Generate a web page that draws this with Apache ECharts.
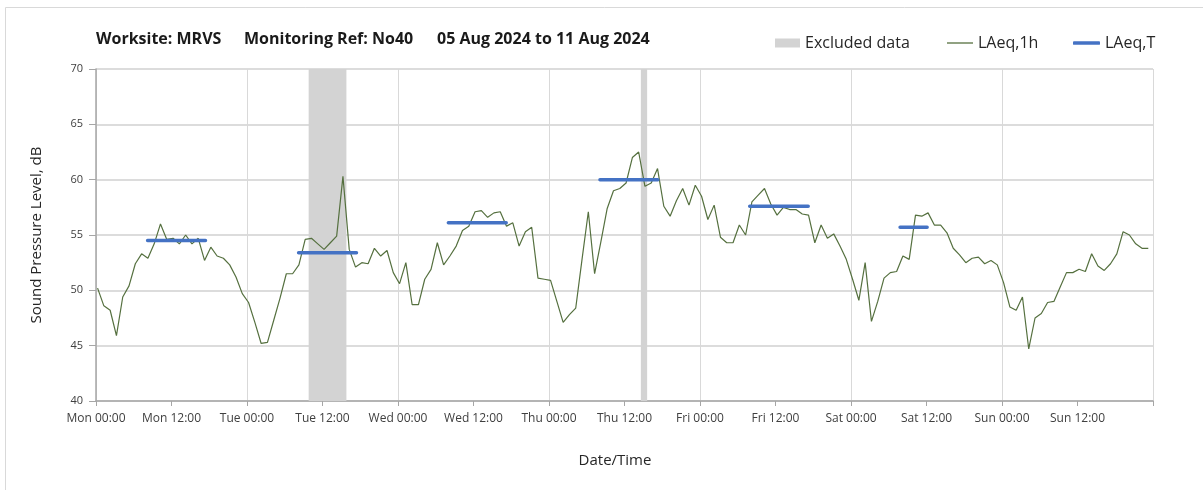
<!DOCTYPE html>
<html>
<head>
<meta charset="utf-8">
<title>MRVS No40 noise</title>
<script src="https://cdn.jsdelivr.net/npm/echarts@6/dist/echarts.min.js"></script>
<style>
html, body { margin: 0; padding: 0; background: #fff; }
#chart { width: 1203px; height: 490px; }
</style>
</head>
<body>
<div id="chart"></div>
<script>
// LAeq,1h - one reading per hour, Mon 00:00 .. Sun 23:00
const laeq1h = [
    50.2, 48.6, 48.2, 45.9, 49.4, 50.4, 52.4, 53.3, 52.9, 54.2,
    56.0, 54.6, 54.7, 54.2, 55.0, 54.2, 54.7, 52.7, 53.9, 53.1,
    52.9, 52.3, 51.2, 49.7, 48.9, 47.1, 45.2, 45.3, 47.3, 49.3,
    51.5, 51.5, 52.3, 54.6, 54.7, 54.2, 53.7, 54.3, 54.9, 60.3,
    53.7, 52.1, 52.5, 52.4, 53.8, 53.1, 53.6, 51.6, 50.6, 52.5,
    48.7, 48.7, 51.0, 51.9, 54.3, 52.3, 53.1, 54.0, 55.4, 55.8,
    57.1, 57.2, 56.6, 57.0, 57.1, 55.8, 56.1, 54.0, 55.3, 55.7,
    51.1, 51.0, 50.9, 49.0, 47.1, 47.8, 48.4, 52.8, 57.1, 51.5,
    54.4, 57.4, 59.0, 59.2, 59.7, 62.0, 62.5, 59.4, 59.7, 61.0,
    57.6, 56.7, 58.1, 59.2, 57.7, 59.5, 58.5, 56.4, 57.7, 54.8,
    54.3, 54.3, 55.9, 55.0, 58.0, 58.6, 59.2, 57.8, 56.8, 57.5,
    57.3, 57.3, 56.9, 56.8, 54.3, 55.9, 54.7, 55.1, 54.0, 52.8,
    51.0, 49.1, 52.5, 47.2, 49.0, 51.1, 51.6, 51.7, 53.1, 52.8,
    56.8, 56.7, 57.0, 55.9, 55.9, 55.2, 53.8, 53.2, 52.5, 52.9,
    53.0, 52.4, 52.7, 52.3, 50.7, 48.5, 48.2, 49.4, 44.7, 47.5,
    47.9, 48.9, 49.0, 50.3, 51.6, 51.6, 51.9, 51.7, 53.3, 52.2,
    51.8, 52.4, 53.3, 55.3, 55.0, 54.2, 53.8, 53.8
]
const firstHour = 0.25 // readings sit a little after the hour mark

// LAeq,T - daytime period averages (start / end in hours from Mon 00:00)
const laeqTStart = [8.2, 32.2, 56.0, 80.1, 103.9, 127.8]
const laeqTEnd = [17.4, 41.4, 65.2, 89.3, 113.2, 132.1]
const laeqT = [54.5, 53.4, 56.1, 60.0, 57.6, 55.7]

// excluded periods
const excludedStart = [33.8, 86.6]
const excludedEnd = [39.8, 87.6]

// x ticks every 12 h
const xTickLabels = [
    'Mon 00:00', 'Mon 12:00', 'Tue 00:00', 'Tue 12:00', 'Wed 00:00', 'Wed 12:00',
    'Thu 00:00', 'Thu 12:00', 'Fri 00:00', 'Fri 12:00', 'Sat 00:00', 'Sat 12:00',
    'Sun 00:00', 'Sun 12:00', ''
]

const FONT = 'Open Sans'
const GREEN = '#55703f'
const BLUE = '#4472c4'
const GREY = '#d3d3d3'

const lineData = laeq1h.map((v, i) => [i + firstHour, v])

let periodData = []
laeqT.forEach((v, i) => {
    periodData.push([laeqTStart[i], v], [laeqTEnd[i], v], [laeqTEnd[i], '-'])
})

const excludedAreas = excludedStart.map((s, i) => [{ xAxis: s }, { xAxis: excludedEnd[i] }])

const titleStyle = { fontFamily: FONT, fontSize: 16, fontWeight: 'bold', color: '#1a1a1a' }
const legendText = { fontFamily: FONT, fontSize: 16, color: '#262626' }

const chart = echarts.init(document.getElementById('chart'))
const option = {
    animation: false,
    textStyle: { fontFamily: FONT },
    title: [
        { text: 'Worksite: MRVS', left: 96, top: 31, padding: 0, textStyle: titleStyle },
        { text: 'Monitoring Ref: No40', left: 244, top: 31, padding: 0, textStyle: titleStyle },
        { text: '05 Aug 2024 to 11 Aug 2024', left: 437, top: 31, padding: 0, textStyle: titleStyle }
    ],
    legend: [
        {
            left: 775, top: 35, padding: 0, itemWidth: 25, itemHeight: 9,
            data: [{ name: 'Excluded data', icon: 'rect' }],
            textStyle: legendText
        },
        {
            // plain line icon, no symbol
            left: 947, top: 35, padding: 0, itemWidth: 26, itemHeight: 1.3,
            data: [{ name: 'LAeq,1h', icon: 'rect' }],
            textStyle: legendText
        },
        {
            left: 1073, top: 35, padding: 0, itemWidth: 27, itemHeight: 3.5,
            data: [{ name: 'LAeq,T', icon: 'roundRect' }],
            textStyle: legendText
        }
    ],
    graphic: [
        {
            type: 'rect',
            shape: { x: 5.5, y: 7.5, width: 1300, height: 600 },
            style: { fill: 'none', stroke: '#d9d9d9', lineWidth: 1 },
            silent: true
        }
    ],
    grid: { left: 96, right: 50, top: 69, bottom: 89 },
    xAxis: {
        type: 'value',
        min: 0,
        max: 168,
        interval: 12,
        name: 'Date/Time',
        nameLocation: 'middle',
        nameGap: 52,
        nameTextStyle: { fontSize: 15, color: '#262626', padding: [0, 19, 0, 0] },
        axisLine: { lineStyle: { color: '#a6a6a6', width: 1.5 } },
        axisTick: { show: true, length: 5, lineStyle: { color: '#a6a6a6' } },
        axisLabel: {
            fontSize: 12,
            color: '#404040',
            margin: 12,
            formatter: v => xTickLabels[Math.round(v / 12)]
        },
        // grid lines only at midnight
        splitLine: { show: true, lineStyle: { color: ['#d9d9d9', 'rgba(0,0,0,0)'], width: 1 } }
    },
    yAxis: {
        type: 'value',
        min: 40,
        max: 70,
        interval: 5,
        name: 'Sound Pressure Level, dB',
        nameLocation: 'middle',
        nameGap: 52,
        nameTextStyle: { fontSize: 15, color: '#262626' },
        axisLine: { show: true, lineStyle: { color: '#a6a6a6', width: 1.5 } },
        axisTick: { show: true, length: 7, lineStyle: { color: '#a6a6a6' } },
        axisLabel: { fontSize: 11, color: '#404040', margin: 13 },
        splitLine: { lineStyle: { color: '#d0d0d0', width: 1.5 } }
    },
    series: [
        {
            name: 'Excluded data',
            type: 'line',
            data: [],
            color: GREY,
            z: 1,
            markArea: {
                silent: true,
                itemStyle: { color: GREY },
                data: excludedAreas
            }
        },
        {
            name: 'LAeq,1h',
            type: 'line',
            data: lineData,
            color: GREEN,
            symbol: 'none',
            z: 3,
            lineStyle: { color: GREEN, width: 1.2 }
        },
        {
            name: 'LAeq,T',
            type: 'line',
            data: periodData,
            color: BLUE,
            symbol: 'none',
            connectNulls: false,
            z: 4,
            lineStyle: { color: BLUE, width: 3.5, cap: 'round' }
        }
    ]
}
chart.setOption(option)
</script>
</body>
</html>
